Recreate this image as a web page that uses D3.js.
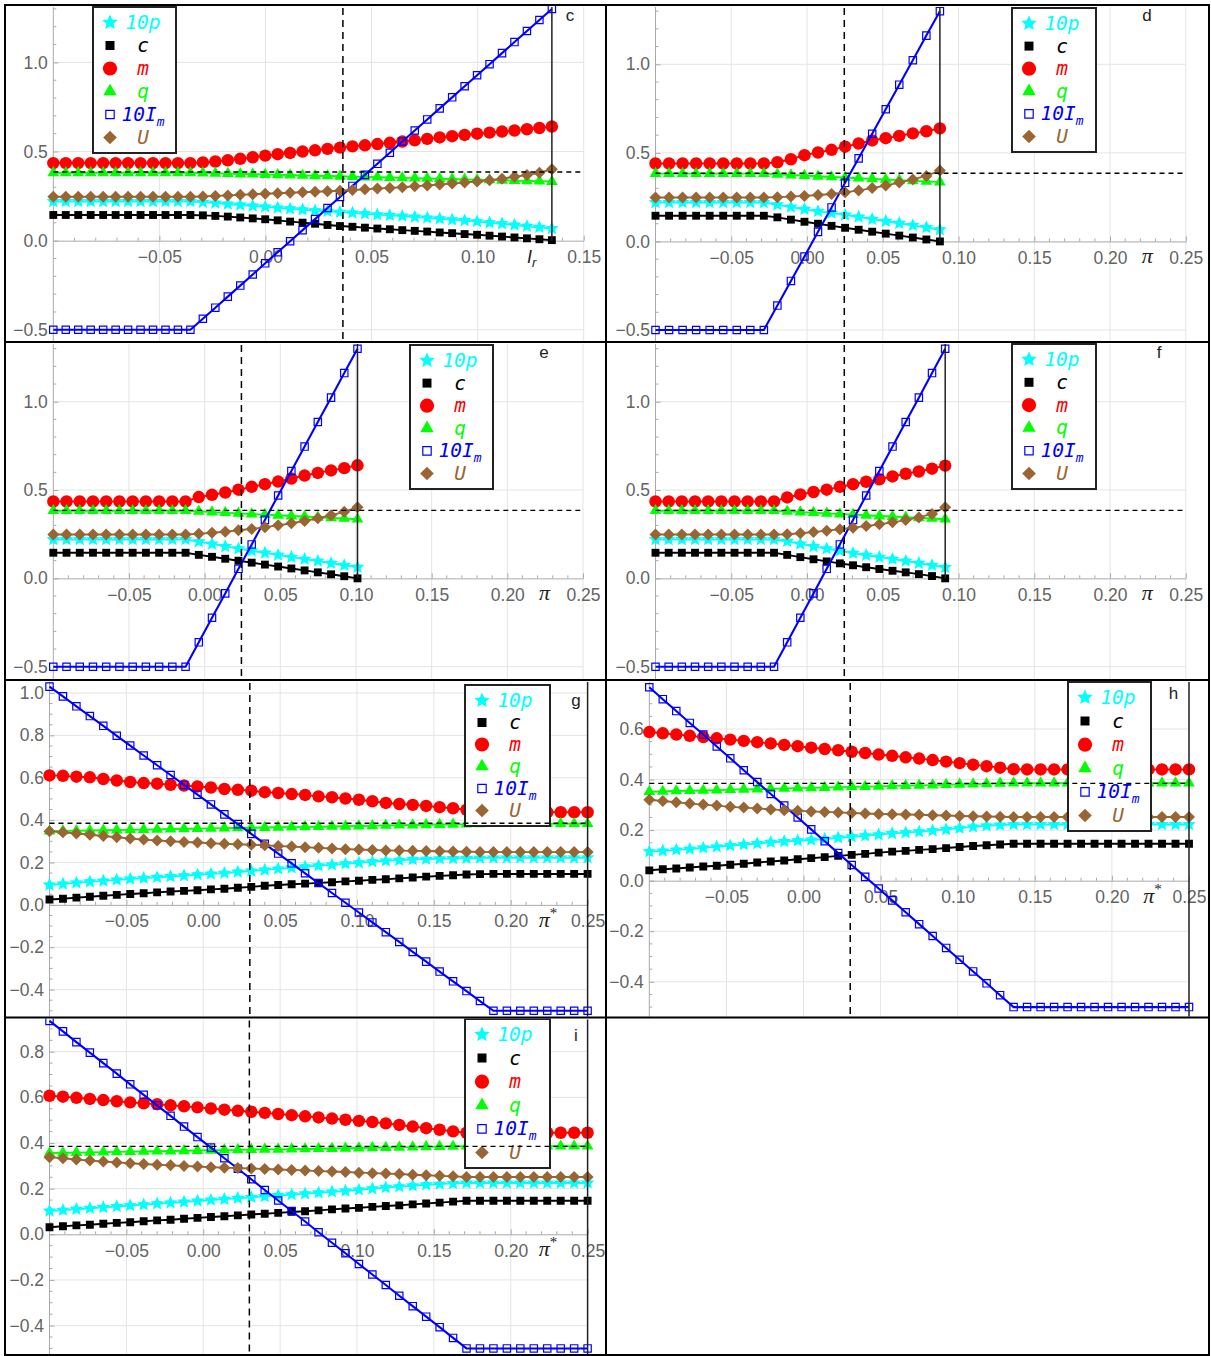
<!DOCTYPE html>
<html>
<head>
<meta charset="utf-8">
<script src="https://cdn.jsdelivr.net/npm/d3@7"></script>
<style>
  html, body { margin: 0; padding: 0; background: #fff; }
  svg { display: block; }
</style>
</head>
<body>
<svg id="fig" width="1211" height="1356"></svg>
<script>
// ---------------------------------------------------------------
// Sampled parameter interval of each panel: [first, last] value.
// Points are evenly spaced over the interval.
// ---------------------------------------------------------------
const gridC = [-0.1, 0.135];   // I_r
const gridD = [-0.1, 0.0877];  // pi
const gridE = [-0.1, 0.101];   // pi
const gridF = [-0.1, 0.0912];  // pi
const gridG = [-0.1, 0.25];    // pi*
const gridH = [-0.1, 0.25];    // pi*
const gridI = [-0.1, 0.25];    // pi*

// ---------------- panel c ----------------
const tenP_c = [0.22,0.22,0.22,0.22,0.22,0.22,0.22,0.22,0.22,0.22,0.22,0.22,
  0.216,0.211,0.206,0.2,0.195,0.19,0.184,0.179,0.174,0.169,
  0.165,0.16,0.156,0.151,0.146,0.142,0.138,0.133,0.128,0.123,
  0.118,0.113,0.107,0.101,0.095,0.088,0.081,0.075,0.068];
const c_c = [0.144,0.144,0.144,0.144,0.144,0.144,0.144,0.144,0.144,0.144,0.144,0.144,
  0.142,0.139,0.135,0.13,0.125,0.12,0.114,0.107,0.101,0.095,
  0.088,0.082,0.078,0.073,0.068,0.064,0.059,0.055,0.051,0.046,
  0.042,0.037,0.033,0.028,0.023,0.018,0.013,0.008,0.003];
const m_c = [0.435,0.435,0.435,0.435,0.435,0.435,0.435,0.435,0.435,0.435,0.435,0.435,
  0.439,0.444,0.451,0.459,0.468,0.477,0.485,0.492,0.5,0.507,
  0.515,0.522,0.529,0.535,0.542,0.549,0.556,0.563,0.571,0.579,
  0.586,0.593,0.6,0.606,0.612,0.618,0.625,0.632,0.64];
const q_c = [0.381,0.381,0.381,0.381,0.381,0.381,0.381,0.381,0.381,0.381,0.381,0.381,
  0.379,0.378,0.376,0.374,0.373,0.371,0.369,0.368,0.366,0.364,
  0.363,0.361,0.359,0.357,0.356,0.354,0.352,0.351,0.349,0.347,
  0.346,0.344,0.342,0.341,0.339,0.337,0.335,0.334,0.332];
const tenIm_c = [-0.5,-0.5,-0.5,-0.5,-0.5,-0.5,-0.5,-0.5,-0.5,-0.5,-0.5,-0.5,
  -0.438,-0.376,-0.314,-0.252,-0.19,-0.127,-0.065,-0.003,0.059,0.121,
  0.183,0.245,0.307,0.369,0.431,0.493,0.556,0.618,0.68,0.742,
  0.804,0.866,0.928,0.99,1.052,1.114,1.176,1.238,1.3];
const U_c = [0.246,0.246,0.246,0.246,0.246,0.246,0.246,0.246,0.246,0.246,0.246,0.246,
  0.248,0.251,0.254,0.257,0.26,0.263,0.266,0.269,0.272,0.274,
  0.277,0.28,0.284,0.288,0.292,0.296,0.3,0.305,0.31,0.315,
  0.32,0.326,0.332,0.339,0.347,0.358,0.368,0.381,0.4];

// ---------------- panel d ----------------
const tenP_d = [0.22,0.22,0.22,0.22,0.22,0.22,0.22,0.22,0.22,
  0.207,0.194,0.182,0.17,0.16,0.15,0.138,0.126,0.114,0.103,0.091,0.079,0.066];
const c_d = [0.145,0.145,0.145,0.145,0.145,0.145,0.145,0.145,0.145,
  0.136,0.123,0.111,0.1,0.088,0.077,0.066,0.055,0.044,0.033,0.022,0.011,0.0];
const m_d = [0.44,0.44,0.44,0.44,0.44,0.44,0.44,0.44,0.44,
  0.447,0.464,0.487,0.502,0.517,0.535,0.553,0.57,0.583,0.596,0.61,0.622,0.638];
const q_d = [0.383,0.383,0.383,0.383,0.383,0.383,0.383,0.383,0.383,
  0.379,0.375,0.372,0.368,0.364,0.361,0.357,0.353,0.35,0.346,0.342,0.339,0.335];
const tenIm_d = [-0.5,-0.5,-0.5,-0.5,-0.5,-0.5,-0.5,-0.5,-0.5,
  -0.362,-0.223,-0.085,0.054,0.192,0.331,0.469,0.608,0.746,0.885,1.023,1.162,1.3];
const U_d = [0.248,0.248,0.248,0.248,0.248,0.248,0.248,0.248,0.248,
  0.25,0.253,0.257,0.262,0.268,0.277,0.288,0.301,0.316,0.332,0.35,0.37,0.4];

// ---------------- panel e ----------------
const tenP_e = [0.22,0.22,0.22,0.22,0.22,0.22,0.22,0.22,0.22,0.22,0.22,
  0.208,0.195,0.181,0.168,0.156,0.144,0.132,0.12,0.109,0.098,0.086,0.074,0.063];
const c_e = [0.145,0.145,0.145,0.145,0.145,0.145,0.145,0.145,0.145,0.145,0.145,
  0.133,0.122,0.111,0.1,0.089,0.078,0.067,0.056,0.045,0.034,0.023,0.012,0.0];
const m_e = [0.435,0.435,0.435,0.435,0.435,0.435,0.435,0.435,0.435,0.435,0.435,
  0.46,0.473,0.486,0.502,0.518,0.533,0.548,0.565,0.582,0.597,0.611,0.624,0.64];
const q_e = [0.383,0.383,0.383,0.383,0.383,0.383,0.383,0.383,0.383,0.383,0.383,
  0.379,0.375,0.372,0.368,0.364,0.361,0.357,0.353,0.35,0.346,0.342,0.339,0.335];
const tenIm_e = [-0.5,-0.5,-0.5,-0.5,-0.5,-0.5,-0.5,-0.5,-0.5,-0.5,-0.5,
  -0.362,-0.223,-0.085,0.054,0.192,0.331,0.469,0.608,0.746,0.885,1.023,1.162,1.3];
const U_e = [0.248,0.248,0.248,0.248,0.248,0.248,0.248,0.248,0.248,0.248,0.248,
  0.252,0.258,0.264,0.272,0.28,0.29,0.3,0.312,0.325,0.34,0.357,0.377,0.403];

// ---------------- panel f ----------------
const tenP_f = [0.22,0.22,0.22,0.22,0.22,0.22,0.22,0.22,0.22,0.22,
  0.21,0.195,0.181,0.168,0.156,0.143,0.131,0.12,0.109,0.098,0.086,0.074,0.062];
const c_f = [0.145,0.145,0.145,0.145,0.145,0.145,0.145,0.145,0.145,0.145,
  0.133,0.12,0.108,0.096,0.085,0.074,0.063,0.053,0.043,0.034,0.024,0.013,0.0];
const m_f = [0.435,0.435,0.435,0.435,0.435,0.435,0.435,0.435,0.435,0.435,
  0.458,0.475,0.489,0.502,0.518,0.533,0.547,0.561,0.577,0.592,0.605,0.621,0.638];
const q_f = [0.383,0.383,0.383,0.383,0.383,0.383,0.383,0.383,0.383,0.383,
  0.379,0.375,0.372,0.368,0.364,0.361,0.357,0.353,0.35,0.346,0.342,0.339,0.335];
const tenIm_f = [-0.5,-0.5,-0.5,-0.5,-0.5,-0.5,-0.5,-0.5,-0.5,-0.5,
  -0.362,-0.223,-0.085,0.054,0.192,0.331,0.469,0.608,0.746,0.885,1.023,1.162,1.3];
const U_f = [0.248,0.248,0.248,0.248,0.248,0.248,0.248,0.248,0.248,0.248,
  0.25,0.255,0.262,0.27,0.278,0.287,0.296,0.306,0.317,0.33,0.345,0.365,0.403];

// ---------------- panel g ----------------
const tenP_g = [0.094,0.099,0.104,0.109,0.113,0.118,0.122,0.126,0.13,0.134,
  0.138,0.142,0.146,0.15,0.155,0.16,0.165,0.17,0.175,0.18,
  0.185,0.189,0.194,0.199,0.204,0.208,0.211,0.214,0.216,0.218,
  0.219,0.22,0.221,0.222,0.222,0.222,0.222,0.222,0.222,0.222,0.222];
const c_g = [0.025,0.029,0.034,0.038,0.043,0.047,0.051,0.055,0.059,0.063,
  0.066,0.069,0.073,0.076,0.081,0.085,0.09,0.094,0.097,0.1,
  0.104,0.107,0.111,0.114,0.118,0.121,0.125,0.129,0.133,0.137,
  0.14,0.143,0.145,0.146,0.146,0.146,0.146,0.146,0.146,0.146,0.146];
const m_g = [0.611,0.609,0.605,0.602,0.594,0.587,0.58,0.575,0.572,0.567,
  0.563,0.559,0.554,0.547,0.543,0.539,0.532,0.528,0.523,0.519,
  0.512,0.508,0.502,0.496,0.489,0.481,0.476,0.472,0.467,0.461,
  0.456,0.449,0.443,0.438,0.437,0.437,0.437,0.437,0.437,0.437,0.437];
const q_g = [0.348,0.349,0.35,0.351,0.352,0.353,0.354,0.355,0.356,0.358,
  0.359,0.36,0.361,0.362,0.363,0.364,0.365,0.366,0.367,0.368,
  0.369,0.37,0.371,0.372,0.373,0.375,0.376,0.377,0.378,0.379,
  0.38,0.381,0.382,0.383,0.383,0.383,0.383,0.383,0.383,0.383,0.383];
const tenIm_g = [1.03,0.984,0.937,0.891,0.845,0.798,0.752,0.705,0.659,0.613,
  0.566,0.52,0.474,0.427,0.381,0.335,0.288,0.242,0.196,0.149,
  0.103,0.056,0.01,-0.036,-0.083,-0.129,-0.175,-0.222,-0.268,-0.315,
  -0.361,-0.407,-0.454,-0.5,-0.5,-0.5,-0.5,-0.5,-0.5,-0.5,-0.5];
const U_g = [0.347,0.343,0.337,0.331,0.325,0.319,0.313,0.308,0.304,0.3,
  0.297,0.294,0.291,0.288,0.286,0.284,0.281,0.278,0.275,0.272,
  0.269,0.266,0.263,0.261,0.259,0.257,0.256,0.255,0.254,0.253,
  0.252,0.251,0.25,0.249,0.249,0.249,0.249,0.249,0.249,0.249,0.249];

// ---------------- panel h ----------------
const tenP_h = [0.115,0.118,0.122,0.125,0.13,0.134,0.139,0.143,0.147,0.152,
  0.155,0.158,0.161,0.165,0.17,0.174,0.178,0.182,0.187,0.19,
  0.194,0.198,0.203,0.208,0.213,0.217,0.22,0.222,
  0.222,0.222,0.222,0.222,0.222,0.222,0.222,0.222,0.222,0.222,0.222,0.222,0.222];
const c_h = [0.041,0.045,0.048,0.052,0.056,0.059,0.063,0.067,0.072,0.076,
  0.08,0.085,0.089,0.093,0.098,0.102,0.106,0.111,0.115,0.118,
  0.122,0.125,0.129,0.133,0.137,0.14,0.143,0.146,
  0.146,0.146,0.146,0.146,0.146,0.146,0.146,0.146,0.146,0.146,0.146,0.146,0.146];
const m_h = [0.588,0.583,0.578,0.573,0.568,0.563,0.558,0.553,0.548,0.543,
  0.537,0.532,0.526,0.521,0.516,0.51,0.505,0.499,0.494,0.488,
  0.483,0.477,0.471,0.465,0.459,0.453,0.447,0.441,
  0.44,0.44,0.44,0.44,0.44,0.44,0.44,0.44,0.44,0.44,0.44,0.44,0.44];
const q_h = [0.352,0.353,0.355,0.356,0.357,0.358,0.36,0.361,0.362,0.363,
  0.365,0.366,0.367,0.368,0.37,0.371,0.372,0.373,0.375,0.376,
  0.377,0.378,0.38,0.381,0.382,0.383,0.385,0.386,
  0.386,0.386,0.386,0.386,0.386,0.386,0.386,0.386,0.386,0.386,0.386,0.386,0.386];
const tenIm_h = [0.765,0.718,0.671,0.624,0.578,0.531,0.484,0.437,0.39,0.343,
  0.297,0.25,0.203,0.156,0.109,0.062,0.015,-0.031,-0.078,-0.125,
  -0.172,-0.219,-0.266,-0.313,-0.359,-0.406,-0.453,-0.5,
  -0.5,-0.5,-0.5,-0.5,-0.5,-0.5,-0.5,-0.5,-0.5,-0.5,-0.5,-0.5,-0.5];
const U_h = [0.32,0.315,0.31,0.305,0.301,0.297,0.292,0.289,0.286,0.282,
  0.279,0.277,0.274,0.272,0.27,0.268,0.266,0.264,0.263,0.262,
  0.261,0.259,0.258,0.256,0.255,0.254,0.253,0.252,
  0.252,0.252,0.252,0.252,0.252,0.252,0.252,0.252,0.252,0.252,0.252,0.252,0.252];

// ---------------- panel i ----------------
const tenP_i = [0.102,0.106,0.11,0.114,0.118,0.122,0.126,0.13,0.134,0.138,
  0.142,0.146,0.15,0.154,0.158,0.162,0.166,0.17,0.174,0.178,
  0.182,0.186,0.19,0.195,0.2,0.205,0.209,0.213,0.217,0.22,
  0.223,0.225,0.225,0.225,0.225,0.225,0.225,0.225,0.225,0.225,0.225];
const c_i = [0.031,0.035,0.039,0.042,0.046,0.05,0.053,0.057,0.061,0.064,
  0.068,0.072,0.076,0.079,0.083,0.087,0.09,0.094,0.098,0.101,
  0.105,0.109,0.113,0.116,0.12,0.124,0.127,0.131,0.135,0.139,
  0.143,0.147,0.147,0.147,0.147,0.147,0.147,0.147,0.147,0.147,0.147];
const m_i = [0.607,0.603,0.598,0.593,0.588,0.583,0.578,0.574,0.57,0.565,
  0.561,0.556,0.551,0.546,0.541,0.537,0.532,0.527,0.522,0.517,
  0.512,0.507,0.502,0.497,0.492,0.486,0.479,0.472,0.465,0.458,
  0.451,0.445,0.445,0.445,0.445,0.445,0.445,0.445,0.445,0.445,0.445];
const q_i = [0.356,0.357,0.358,0.359,0.36,0.361,0.362,0.363,0.364,0.365,
  0.366,0.367,0.368,0.369,0.37,0.371,0.372,0.372,0.373,0.374,
  0.375,0.376,0.377,0.378,0.379,0.38,0.381,0.382,0.383,0.384,
  0.385,0.386,0.386,0.386,0.386,0.386,0.386,0.386,0.386,0.386,0.386];
const tenIm_i = [0.935,0.889,0.842,0.796,0.75,0.704,0.657,0.611,0.565,0.519,
  0.472,0.426,0.38,0.333,0.287,0.241,0.194,0.148,0.102,0.056,
  0.009,-0.037,-0.083,-0.13,-0.176,-0.222,-0.269,-0.315,-0.361,-0.407,
  -0.454,-0.5,-0.5,-0.5,-0.5,-0.5,-0.5,-0.5,-0.5,-0.5,-0.5];
const U_i = [0.338,0.333,0.328,0.323,0.319,0.315,0.311,0.308,0.305,0.302,
  0.299,0.297,0.294,0.292,0.29,0.288,0.286,0.284,0.282,0.28,
  0.277,0.275,0.273,0.27,0.268,0.266,0.264,0.261,0.259,0.256,
  0.254,0.251,0.251,0.251,0.251,0.251,0.251,0.251,0.251,0.251,0.251];

// Horizontal reference level and vertical reference values per panel
const refLevel = 0.385;
const refValue = { c: 0.0365, d: 0.0246, e: 0.0243, f: 0.0246, g: 0.0303, h: 0.0303, i: 0.030 };

// Series legend: label text, colour, marker
const seriesDefs = [
  { key: "tenP",  label: "10p", sub: null, color: "#00ffff", mark: "star" },
  { key: "c",     label: "c",   sub: null, color: "#000000", mark: "square" },
  { key: "m",     label: "m",   sub: null, color: "#ff0000", mark: "circle" },
  { key: "q",     label: "q",   sub: null, color: "#00ff00", mark: "triangle" },
  { key: "tenIm", label: "10I", sub: "m",  color: "#0000ff", mark: "openSquare" },
  { key: "U",     label: "U",   sub: null, color: "#996633", mark: "diamond" }
];

const panels = [
  { id: "c", grid: gridC, data: { tenP: tenP_c, c: c_c, m: m_c, q: q_c, tenIm: tenIm_c, U: U_c } },
  { id: "d", grid: gridD, data: { tenP: tenP_d, c: c_d, m: m_d, q: q_d, tenIm: tenIm_d, U: U_d } },
  { id: "e", grid: gridE, data: { tenP: tenP_e, c: c_e, m: m_e, q: q_e, tenIm: tenIm_e, U: U_e } },
  { id: "f", grid: gridF, data: { tenP: tenP_f, c: c_f, m: m_f, q: q_f, tenIm: tenIm_f, U: U_f } },
  { id: "g", grid: gridG, data: { tenP: tenP_g, c: c_g, m: m_g, q: q_g, tenIm: tenIm_g, U: U_g } },
  { id: "h", grid: gridH, data: { tenP: tenP_h, c: c_h, m: m_h, q: q_h, tenIm: tenIm_h, U: U_h } },
  { id: "i", grid: gridI, data: { tenP: tenP_i, c: c_i, m: m_i, q: q_i, tenIm: tenIm_i, U: U_i } }
];

// ---------------------------------------------------------------
// Page layout of each panel (pixel geometry only)
// ---------------------------------------------------------------
const layout = {
  c: { cell: [5, 5, 606, 342],      xMax: 0.15, xPx: [53.3, 583.7],  yDom: [-0.5, 1.0], yPix: [329.8, 62.4],
       yMajor: [-0.5, 0, 0.5, 1.0], yMinor: 0.1, legend: [93, 7, 83, 146],   letter: [570, 15],
       name: "Ir", nameAt: 0.1255, endFull: false },
  d: { cell: [606, 5, 1209, 342],   xMax: 0.25, xPx: [655.5, 1185.8], yDom: [-0.5, 1.0], yPix: [330, 64.3],
       yMajor: [-0.5, 0, 0.5, 1.0], yMinor: 0.1, legend: [1012, 8, 84, 144],  letter: [1147, 15],
       name: "pi", nameAt: 0.2245, endFull: false },
  e: { cell: [5, 342, 606, 680],    xMax: 0.25, xPx: [53.3, 583],    yDom: [-0.5, 1.0], yPix: [666.7, 401.7],
       yMajor: [-0.5, 0, 0.5, 1.0], yMinor: 0.1, legend: [410, 345, 83, 144], letter: [544, 352],
       name: "pi", nameAt: 0.2245, endFull: false },
  f: { cell: [606, 342, 1209, 680], xMax: 0.25, xPx: [655.5, 1185.8], yDom: [-0.5, 1.0], yPix: [666.7, 401.7],
       yMajor: [-0.5, 0, 0.5, 1.0], yMinor: 0.1, legend: [1012, 344, 84, 145], letter: [1159, 352],
       name: "pi", nameAt: 0.2245, endFull: false },
  g: { cell: [5, 680, 606, 1017.5], xMax: 0.25, xPx: [49.5, 587.6],  yDom: [-0.4, 1.0], yPix: [989.6, 693],
       yMajor: [-0.4, -0.2, 0, 0.2, 0.4, 0.6, 0.8, 1.0], yMinor: 0.05, legend: [465, 685, 85, 141], letter: [576, 700],
       name: "pistar", nameAt: 0.2243, endFull: true },
  h: { cell: [606, 680, 1209, 1017.5], xMax: 0.25, xPx: [649.3, 1189], yDom: [-0.4, 0.6], yPix: [981.8, 729],
       yMajor: [-0.4, -0.2, 0, 0.2, 0.4, 0.6], yMinor: 0.05, legend: [1068, 682, 83, 149], letter: [1173.5, 693],
       name: "pistar", nameAt: 0.2264, endFull: true },
  i: { cell: [5, 1017.5, 606, 1355], xMax: 0.25, xPx: [49.5, 587.6], yDom: [0, 0.8], yPix: [1234.3, 1051.7],
       yMajor: [-0.4, -0.2, 0, 0.2, 0.4, 0.6, 0.8], yMinor: 0.05, legend: [465, 1019, 85, 149], letter: [576, 1035],
       name: "pistar", nameAt: 0.2243, endFull: true }
};

const svg = d3.select("#fig");
const defs = svg.append("defs");
svg.append("rect").attr("width", 1211).attr("height", 1356).attr("fill", "#fff");

const tickFont = "'Liberation Sans', Arial, sans-serif";
const monoFont = "'DejaVu Sans Mono', monospace";
const gridColor = "#e4e4e4";
const axisColor = "#a9a9a9";
const labelColor = "#646464";

// A broad five-pointed star (inner radius about 46% of the outer one)
const broadStar = {
  draw(context, size) {
    const r = Math.sqrt(size / 1.3), ri = r * 0.46;
    for (let k = 0; k < 10; ++k) {
      const a = -Math.PI / 2 + k * Math.PI / 5, rr = k % 2 ? ri : r;
      const px = rr * Math.cos(a), py = rr * Math.sin(a);
      if (k === 0) context.moveTo(px, py); else context.lineTo(px, py);
    }
    context.closePath();
  }
};

// marker shapes: plot size and a slightly larger legend size
function makeMarks(scale) {
  return {
    star:       d3.symbol(broadStar, 66 * scale)(),
    square:     d3.symbol(d3.symbolSquare, 62 * scale)(),
    circle:     d3.symbol(d3.symbolCircle, 122 * scale)(),
    triangle:   d3.symbol(d3.symbolTriangle, 60 * scale)(),
    openSquare: d3.symbol(d3.symbolSquare, 54 * scale)(),
    diamond:    d3.symbol(d3.symbolSquare, 72 * scale)()
  };
}
const plotMarks = makeMarks(1);
const legendMarks = makeMarks(1.3);

function placeMarks(sel, s, xf, yf, shapes) {
  sel.attr("d", shapes[s.mark])
    .attr("transform", d => `translate(${xf(d)},${yf(d)})` + (s.mark === "diamond" ? " rotate(45)" : ""))
    .attr("fill", s.mark === "openSquare" ? "none" : s.color)
    .attr("stroke", s.mark === "openSquare" ? s.color : "none")
    .attr("stroke-width", 1.2);
}

function drawPanel(p) {
  const L = layout[p.id];
  const [cx0, cy0, cx1, cy1] = L.cell;
  const x = d3.scaleLinear().domain([-0.1, L.xMax]).range(L.xPx);
  const y = d3.scaleLinear().domain(L.yDom).range(L.yPix);
  const top = cy0 + 2, bottom = cy1;

  defs.append("clipPath").attr("id", "clip-" + p.id)
    .append("rect").attr("x", cx0 + 1).attr("y", cy0 + 1)
    .attr("width", cx1 - cx0 - 2).attr("height", cy1 - cy0 - 2);
  const g = svg.append("g").attr("clip-path", `url(#clip-${p.id})`);

  // grid lines at the major ticks
  const xMajor = d3.range(-0.05, L.xMax + 1e-9, 0.05);
  g.append("g").selectAll("line").data(xMajor).join("line")
    .attr("x1", d => x(d)).attr("x2", d => x(d)).attr("y1", top).attr("y2", bottom)
    .attr("stroke", gridColor).attr("stroke-width", 1);
  g.append("g").selectAll("line").data(L.yMajor.filter(v => Math.abs(v) > 1e-9)).join("line")
    .attr("x1", L.xPx[0]).attr("x2", L.xPx[1]).attr("y1", d => y(d)).attr("y2", d => y(d))
    .attr("stroke", gridColor).attr("stroke-width", 1);

  // minor ticks
  const xMinor = d3.range(-0.1, L.xMax + 1e-9, 0.01)
    .filter(v => Math.abs(v / 0.05 - Math.round(v / 0.05)) > 1e-6);
  g.append("g").selectAll("line").data(xMinor).join("line")
    .attr("x1", d => x(d)).attr("x2", d => x(d)).attr("y1", y(0)).attr("y2", y(0) - 3)
    .attr("stroke", axisColor).attr("stroke-width", 1);
  const yLo = y.invert(bottom), yHi = y.invert(top);
  const majStep = L.yMajor[1] - L.yMajor[0];
  const yMinor = d3.range(Math.ceil(yLo / L.yMinor) * L.yMinor, yHi, L.yMinor)
    .filter(v => Math.abs(v / majStep - Math.round(v / majStep)) > 1e-6);
  g.append("g").selectAll("line").data(yMinor).join("line")
    .attr("x1", L.xPx[0]).attr("x2", L.xPx[0] + 3).attr("y1", d => y(d)).attr("y2", d => y(d))
    .attr("stroke", axisColor).attr("stroke-width", 1);

  // axes
  const xAxis = d3.axisBottom(x).tickValues(xMajor).tickFormat(d3.format(".2f"))
    .tickSize(-5).tickSizeOuter(0).tickPadding(10);
  const gx = g.append("g").attr("transform", `translate(0,${y(0)})`).call(xAxis)
    .attr("color", axisColor).attr("font-family", tickFont).attr("font-size", 17.5);
  gx.selectAll("text").attr("fill", labelColor);

  const yAxis = d3.axisLeft(y).tickValues(L.yMajor).tickFormat(d3.format(".1f"))
    .tickSize(-5).tickSizeOuter(0).tickPadding(5.5);
  const gy = g.append("g").attr("transform", `translate(${L.xPx[0]},0)`).call(yAxis)
    .attr("color", axisColor).attr("font-family", tickFont).attr("font-size", 17.5);
  gy.select(".domain").remove();
  gy.selectAll("text").attr("fill", labelColor);
  g.append("line").attr("x1", L.xPx[0]).attr("x2", L.xPx[0]).attr("y1", top).attr("y2", bottom)
    .attr("stroke", axisColor).attr("stroke-width", 1);

  // axis name
  const nm = g.append("text").attr("x", x(L.nameAt)).attr("y", y(0) + 22).attr("text-anchor", "middle")
    .attr("fill", "#222");
  if (L.name === "Ir") {
    nm.attr("font-family", tickFont).attr("font-style", "italic").attr("font-size", 18);
    nm.append("tspan").text("I");
    nm.append("tspan").attr("dy", 4).attr("font-size", 13).text("r");
  } else {
    nm.attr("font-family", "'Liberation Serif', 'Times New Roman', serif").attr("font-style", "italic")
      .attr("font-size", 22);
    nm.append("tspan").text("π");
    if (L.name === "pistar") nm.append("tspan").attr("dy", -9).attr("font-size", 15)
      .attr("font-style", "normal").text("*");
  }

  // data series: line and markers
  const line = d3.line().x(d => x(d[0])).y(d => y(d[1]));
  seriesDefs.forEach(s => {
    const vals = p.data[s.key];
    const n = vals.length;
    const pts = vals.map((v, k) => [p.grid[0] + (p.grid[1] - p.grid[0]) * k / (n - 1), v]);
    g.append("path").datum(pts).attr("d", line).attr("fill", "none")
      .attr("stroke", s.color).attr("stroke-width", s.mark === "openSquare" ? 2.1 : 1.9);
    placeMarks(g.append("g").selectAll("path").data(pts).join("path"), s,
      d => x(d[0]), d => y(d[1]), plotMarks);
  });

  // legend
  const [lx, ly, lw, lh] = L.legend;
  const lg = g.append("g").attr("transform", `translate(${lx},${ly})`);
  lg.append("rect").attr("width", lw).attr("height", lh).attr("fill", "#fff")
    .attr("stroke", "#222").attr("stroke-width", 2);
  const rowY = d3.scaleLinear().domain([0, seriesDefs.length - 1]).range([15.5, lh - 15.5]);
  seriesDefs.forEach((s, k) => {
    placeMarks(lg.append("path").datum(k), s, () => 17, d => rowY(d), legendMarks);
    const t = lg.append("text").attr("x", 50).attr("y", rowY(k) + 6.5).attr("text-anchor", "middle")
      .attr("font-family", monoFont).attr("font-style", "italic").attr("font-size", 19.5)
      .attr("fill", s.color);
    t.append("tspan").text(s.label);
    if (s.sub) t.append("tspan").attr("dy", 5).attr("font-size", 13).text(s.sub);
  });

  // reference lines
  g.append("line").attr("x1", L.xPx[0]).attr("x2", L.xPx[1])
    .attr("y1", y(refLevel)).attr("y2", y(refLevel))
    .attr("stroke", "#000").attr("stroke-width", 1.4).attr("stroke-dasharray", "5,4");
  g.append("line").attr("x1", x(refValue[p.id])).attr("x2", x(refValue[p.id]))
    .attr("y1", top + 1).attr("y2", bottom)
    .attr("stroke", "#000").attr("stroke-width", 1.5).attr("stroke-dasharray", "7,5");
  const endX = L.endFull ? L.xMax : p.grid[1];
  g.append("line").attr("x1", x(endX)).attr("x2", x(endX))
    .attr("y1", top).attr("y2", L.endFull ? bottom : y(0))
    .attr("stroke", "#222").attr("stroke-width", 1.5);

  // panel letter
  g.append("text").attr("x", L.letter[0]).attr("y", L.letter[1]).attr("text-anchor", "middle")
    .attr("dominant-baseline", "central").attr("font-family", tickFont).attr("font-size", 17)
    .attr("fill", "#222").text(p.id);
}

panels.forEach(drawPanel);

// table frame around the panels
const frame = svg.append("g").attr("stroke", "#000").attr("stroke-width", 2).attr("fill", "none");
frame.append("rect").attr("x", 5).attr("y", 5).attr("width", 1204).attr("height", 1350);
frame.append("line").attr("x1", 606).attr("x2", 606).attr("y1", 5).attr("y2", 1355);
[342, 680, 1017.5].forEach(v =>
  frame.append("line").attr("x1", 5).attr("x2", 1209).attr("y1", v).attr("y2", v));
</script>
</body>
</html>
